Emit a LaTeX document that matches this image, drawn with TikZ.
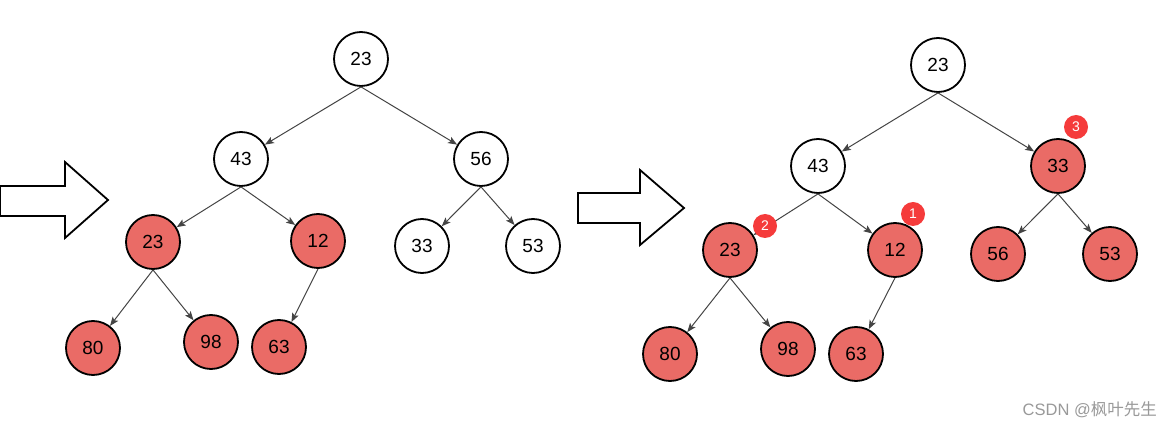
\documentclass[tikz,border=0pt]{standalone}
\usepackage{fontspec}
\setmainfont{Liberation Sans}
\newfontfamily\cjk{Noto Sans CJK SC}
\usetikzlibrary{arrows.meta}
\definecolor{nodered}{HTML}{EA6B66}
\definecolor{badgered}{HTML}{F53B3B}
\definecolor{edgegray}{HTML}{444444}
\begin{document}
\begin{tikzpicture}[x=1pt,y=-1pt,
  wnode/.style={circle,draw=black,line width=1.8pt,fill=white,minimum size=54pt,inner sep=0pt,font=\fontsize{19}{21}\selectfont},
  rnode/.style={wnode,fill=nodered},
  badge/.style={circle,fill=badgered,minimum size=24pt,inner sep=0pt,text=white,font=\fontsize{14}{16}\selectfont},
  edge/.style={draw=edgegray,line width=1pt,-{Stealth[length=9pt,width=7pt,inset=2pt]}},
  blockarrow/.style={draw=black,line width=1.8pt,fill=white}]
\useasboundingbox (0,0) rectangle (1172,427);
% block arrows
\draw[blockarrow] (0,186) -- (65,186) -- (65,162) -- (108,200) -- (65,238) -- (65,216) -- (0,216) -- cycle;
\draw[blockarrow] (578,193) -- (640,193) -- (640,170) -- (684,208) -- (640,245) -- (640,223) -- (578,223) -- cycle;
% left tree
\node[wnode] (a23) at (361,59) {23};
\node[wnode] (a43) at (241,159) {43};
\node[wnode] (a56) at (481,159) {56};
\node[rnode] (a23r) at (153,242) {23};
\node[rnode] (a12) at (318,241) {12};
\node[wnode] (a33) at (422,246) {33};
\node[wnode] (a53) at (533,246) {53};
\node[rnode] (a80) at (93,348) {80};
\node[rnode] (a98) at (211,342) {98};
\node[rnode] (a63) at (279,347) {63};
\draw[edge] (a23.south) -- (a43);
\draw[edge] (a23.south) -- (a56);
\draw[edge] (a43.south) -- (a23r);
\draw[edge] (a43.south) -- (a12);
\draw[edge] (a56.south) -- (a33);
\draw[edge] (a56.south) -- (a53);
\draw[edge] (a23r.south) -- (a80);
\draw[edge] (a23r.south) -- (a98);
\draw[edge] (a12.south) -- (a63);
% right tree
\node[wnode] (b23) at (938,65) {23};
\node[wnode] (b43) at (818,166) {43};
\node[rnode] (b33) at (1058,166) {33};
\node[rnode] (b23r) at (730,250) {23};
\node[rnode] (b12) at (895,250) {12};
\node[rnode] (b56) at (998,254) {56};
\node[rnode] (b53) at (1110,254) {53};
\node[rnode] (b80) at (670,354) {80};
\node[rnode] (b98) at (788,349) {98};
\node[rnode] (b63) at (856,354) {63};
\draw[edge] (b23.south) -- (b43);
\draw[edge] (b23.south) -- (b33);
\draw[edge] (b43.south) -- (b23r);
\draw[edge] (b43.south) -- (b12);
\draw[edge] (b33.south) -- (b56);
\draw[edge] (b33.south) -- (b53);
\draw[edge] (b23r.south) -- (b80);
\draw[edge] (b23r.south) -- (b98);
\draw[edge] (b12.south) -- (b63);
% badges
\node[badge] (n1) at (913,214) {1};
\node[badge] (n2) at (765,226) {2};
\node[badge] (n3) at (1076,127) {3};
% watermark
\node[text=gray!80,font=\fontsize{16.5}{18}\selectfont,anchor=east,inner sep=0pt] (wm) at (1157,410) {CSDN @{\cjk 枫叶先生}};
\end{tikzpicture}
\end{document}
